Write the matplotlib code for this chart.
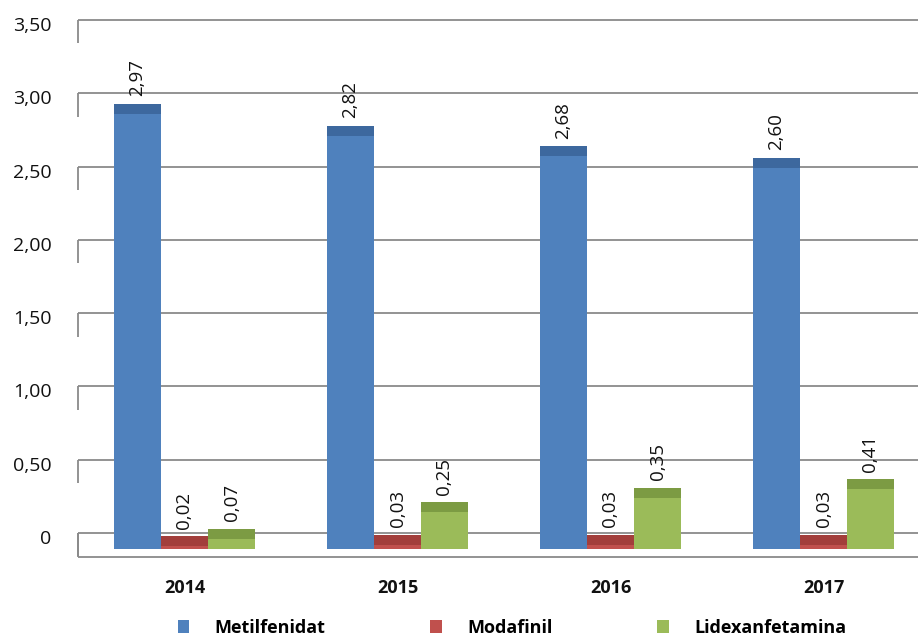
import matplotlib
matplotlib.use("Agg")
import matplotlib.pyplot as plt
import matplotlib.transforms as mtransforms
from matplotlib.patches import Patch
import numpy as np

# ---- data ----
years = ["2014", "2015", "2016", "2017"]
series_names = ["Metilfenidat", "Modafinil", "Lidexanfetamina"]
metilfenidat = [2.97, 2.82, 2.68, 2.60]
modafinil = [0.02, 0.03, 0.03, 0.03]
lidexanfetamina = [0.07, 0.25, 0.35, 0.41]
y_ticks = [0, 0.5, 1.0, 1.5, 2.0, 2.5, 3.0, 3.5]
y_tick_labels = ["0", "0,50", "1,00", "1,50", "2,00", "2,50", "3,00", "3,50"]

# ---- style ----
front_colors = ["#4F81BD", "#C0504D", "#9BBB59"]
top_colors = ["#3D689E", "#A23E3B", "#7C9B43"]
grid_color = "#8A8A8A"
FONT = "Open Sans"

W, H, DPI = 918, 636, 100
fig = plt.figure(figsize=(W / DPI, H / DPI), dpi=DPI)

# pixel geometry of the plot box
px_per_unit = 146.6
zero_px = 533.0
ylo, yhi = -0.2, 3.53
top_px = zero_px - px_per_unit * yhi
bot_px = zero_px - px_per_unit * ylo
left_px = 78.0
ax = fig.add_axes([left_px / W, 1 - bot_px / H, 1 - left_px / W, (bot_px - top_px) / H])

group_px = 213.0
xlo = -0.5
xhi = xlo + (W - left_px) / group_px
ax.set_xlim(xlo, xhi)
ax.set_ylim(ylo, yhi)
for s in ax.spines.values():
    s.set_visible(False)

# back wall gridlines, side wall edges and floor
wall_depth = 0.16
floor_front = -0.164
ax.hlines(y_ticks, xlo, xhi, colors=grid_color, lw=1.3, zorder=1)
ax.hlines([floor_front], xlo, xhi, colors=grid_color, lw=1.3, zorder=1)
ax.vlines([xlo] * len(y_ticks), [v - wall_depth for v in y_ticks], y_ticks,
          colors=grid_color, lw=1.3, zorder=1, clip_on=False)
ax.vlines([xlo], floor_front, 0, colors=grid_color, lw=1.3, zorder=1, clip_on=False)

# bars sit on the front of the floor: shift them toward the viewer
shift = mtransforms.ScaledTranslation(0, -16 / DPI, fig.dpi_scale_trans)
bar_tf = ax.transData + shift
top_depth = 10 / px_per_unit

x = np.arange(len(years))
bw = 47 / group_px
all_series = [metilfenidat, modafinil, lidexanfetamina]
for i, vals in enumerate(all_series):
    xi = x + (i - 1) * bw
    ax.bar(xi, vals, width=bw, color=front_colors[i], transform=bar_tf,
           zorder=3, linewidth=0)
    ax.bar(xi, [top_depth] * len(vals), bottom=vals, width=bw, color=top_colors[i],
           transform=bar_tf, zorder=3, linewidth=0)
    for xx, v in zip(xi, vals):
        ax.annotate(f"{v:.2f}".replace(".", ","), (xx, v), xytext=(0, 1),
                    textcoords="offset points", rotation=90, ha="center",
                    va="bottom", fontsize=13.5, family=FONT, color="#111111",
                    zorder=4)

# axes labels
ax.set_yticks(y_ticks)
ax.set_yticklabels(y_tick_labels, fontsize=14, family=FONT, color="#111111")
ax.tick_params(axis="y", length=0, pad=19)
lab_shift = mtransforms.ScaledTranslation(0, -4 / DPI, fig.dpi_scale_trans)
for lab in ax.get_yticklabels():
    lab.set_transform(lab.get_transform() + lab_shift)

ax.set_xticks(x)
ax.set_xticklabels(years, fontsize=13, family=FONT, fontweight="bold", color="#111111")
ax.tick_params(axis="x", length=0, pad=12)

# legend
handles = [Patch(facecolor=c, edgecolor="none", label=n)
           for c, n in zip(front_colors, series_names)]
fig.legend(handles=handles, loc="center", bbox_to_anchor=(512 / W, 1 - 628 / H),
           ncol=3, frameon=False, handlelength=0.65, handleheight=0.7,
           handletextpad=1.4, columnspacing=5.8,
           prop={"family": FONT, "weight": "bold", "size": 13})

fig.savefig("out.png", dpi=DPI)
